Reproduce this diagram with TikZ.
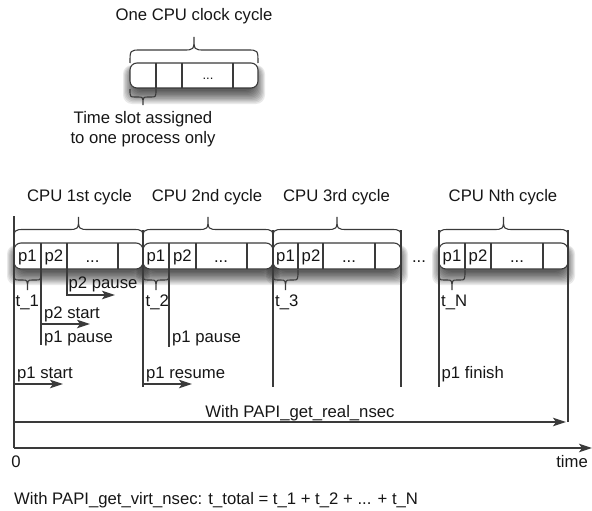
\documentclass[tikz,border=0pt]{standalone}
\usepackage{fontspec}
\setmainfont{Liberation Sans}
\usetikzlibrary{arrows.meta}
\definecolor{ln}{HTML}{3A3A3A}
\definecolor{tx}{HTML}{161616}
% curly brace: x1, x2, y0, h (signed), w, xm
\newcommand{\cbrace}[6]{%
  \draw[ln, line width=1.1pt] (#1,#3) .. controls (#1,{#3+#4/2}) .. ({#1+#5},{#3+#4/2})
    -- ({#6-#5},{#3+#4/2}) .. controls (#6,{#3+#4/2}) .. (#6,{#3+#4})
    .. controls (#6,{#3+#4/2}) .. ({#6+#5},{#3+#4/2})
    -- ({#2-#5},{#3+#4/2}) .. controls (#2,{#3+#4/2}) .. (#2,#3);}
% soft shadow under a box: x1, x2, ytop, ybot
\newcommand{\softshadow}[4]{%
  \foreach \k in {0,...,10}{%
    \fill[black, opacity=0.085, rounded corners=9pt]
      ({#1+4-\k*1.1},{#3+6-\k*0.4}) rectangle ({#2-4+\k*1.1},{#4+3+\k*1.3});}}
\begin{document}
\begin{tikzpicture}[x=1pt, y=-1pt,
  lbl/.style={text=tx, inner sep=0pt, font=\fontsize{16.7}{20}\selectfont},
  dots/.style={text=tx, inner sep=0pt, font=\fontsize{13}{15}\selectfont},
  slotbox/.style={draw=ln, fill=white, rounded corners=7pt, line width=1.1pt},
  ln1/.style={ln, line width=1.1pt},
  arr/.style={ln, line width=1.1pt, -{Stealth[length=13pt,width=8.5pt,inset=3pt]}}]
\useasboundingbox (0,0) rectangle (592,511);

% ---------- top legend ----------
\node[lbl, anchor=base] (title) at (194,21) {One CPU clock cycle};
\softshadow{130}{258}{63}{88}
\draw[slotbox] (130,63) rectangle (258,88);
\coordinate (tbox) at (194,75.5);
\foreach \x in {156,182,233} \draw[ln1] (\x,63) -- (\x,88);
\node[dots, anchor=base] (tdots) at (208,80) {...};
\cbrace{130}{258}{63}{-26}{11}{194}
\cbrace{130}{156}{89}{16}{5}{143}
\node[lbl, anchor=base] (slot1) at (143,123) {Time slot assigned};
\node[lbl, anchor=base] (slot2) at (143,143) {to one process only};

% ---------- cycle labels ----------
\node[lbl, anchor=base] (cy1) at (79.5,201) {CPU 1st cycle};
\node[lbl, anchor=base] (cy2) at (207,201) {CPU 2nd cycle};
\node[lbl, anchor=base] (cy3) at (336.5,201) {CPU 3rd cycle};
\node[lbl, anchor=base] (cyN) at (503,201) {CPU Nth cycle};

% ---------- shadows and boxes ----------
\softshadow{14}{143}{243}{269}
\softshadow{143}{273}{243}{269}
\softshadow{273}{401}{243}{269}
\softshadow{439}{568}{243}{269}
\draw[slotbox] (14,243) rectangle (143,269);
\draw[slotbox] (143,243) rectangle (273,269);
\draw[slotbox] (273,243) rectangle (401,269);
\draw[slotbox] (439,243) rectangle (568,269);
\foreach \x in {41,67,118, 169,196,247, 298,323,375, 465,491,543}
  \draw[ln1] (\x,243) -- (\x,269);

% slot texts
\foreach \xa/\xb/\xc/\n in {27.5/54/92.5/1, 156/182.5/221/2, 285.5/311/349/3, 452/478/517/4}{
  \node[lbl, anchor=base] (p1\n) at (\xa,261) {p1};
  \node[lbl, anchor=base] (p2\n) at (\xb,261) {p2};
  \node[lbl, anchor=base] (d\n) at (\xc,262) {...};
}
\node[lbl, anchor=base] (gap) at (419,262) {...};

% braces over cycles
\cbrace{14}{143}{242}{-25}{11}{78.5}
\cbrace{143}{273}{242}{-25}{11}{208}
\cbrace{273}{401}{242}{-25}{11}{337}
\cbrace{439}{568}{242}{-25}{11}{503.5}
% braces under first slots
\cbrace{14}{41}{270}{20}{5}{27.5}
\cbrace{143}{169}{270}{20}{5}{156}
\cbrace{273}{298}{270}{20}{5}{285.5}
\cbrace{439}{465}{270}{20}{5}{452}

% t labels
\node[lbl, anchor=base west] (t1) at (15.5,306) {t\_1};
\node[lbl, anchor=base west] (t2) at (145.5,306) {t\_2};
\node[lbl, anchor=base west] (t3) at (275,306) {t\_3};
\node[lbl, anchor=base west] (tN) at (441,306) {t\_N};

% ---------- coordinates ----------
\coordinate (L0) at (14,216);
\coordinate (O) at (14,448);
\coordinate (Tend) at (592,448);
\foreach \x/\n in {143/a,273/b,401/c,439/d}{
  \coordinate (v\n t) at (\x,230);
  \coordinate (v\n b) at (\x,387);
}
\coordinate (vet) at (568,230);
\coordinate (veb) at (568,422);
\coordinate (R0) at (14,422);
\coordinate (R1) at (566,422);
\coordinate (q1t) at (41,269);
\coordinate (q1b) at (41,345);
\coordinate (q2t) at (67,269);
\coordinate (q2e) at (115,295);
\coordinate (q3t) at (169,269);
\coordinate (q3b) at (169,347);
\coordinate (s1) at (41,324);
\coordinate (s1e) at (90,324);
\coordinate (s2) at (14,384);
\coordinate (s2e) at (63,384);
\coordinate (s3) at (143,384);
\coordinate (s3e) at (192,384);

% ---------- lines ----------
\draw[ln1] (L0) -- (O);
\foreach \n in {a,b,c,d} \draw[ln1] (v\n t) -- (v\n b);
\draw[ln1] (vet) -- (veb);
\draw[ln1] (q1t) -- (q1b);
\draw[arr] (q2t) |- (q2e);
\draw[ln1] (q3t) -- (q3b);
\draw[arr] (s1) -- (s1e);
\draw[arr] (s2) -- (s2e);
\draw[arr] (s3) -- (s3e);
\draw[arr] (R0) -- (R1);
\draw[arr] (O) -- (Tend);

% ---------- event labels ----------
\node[lbl, anchor=base west] (l1) at (68.5,288) {p2 pause};
\node[lbl, anchor=base west] (l2) at (44,318) {p2 start};
\node[lbl, anchor=base west] (l3) at (44,342) {p1 pause};
\node[lbl, anchor=base west] (l4) at (172,342) {p1 pause};
\node[lbl, anchor=base west] (l5) at (17,378) {p1 start};
\node[lbl, anchor=base west] (l6) at (146,378) {p1 resume};
\node[lbl, anchor=base west] (l7) at (441.5,378) {p1 finish};
\node[lbl, anchor=base] (real) at (300,417) {With PAPI\_get\_real\_nsec};
\node[lbl, anchor=base] (zero) at (16,467) {0};
\node[lbl, anchor=base east] (time) at (588,467) {time};
\node[lbl, anchor=base west] (virt) at (14,504) {With PAPI\_get\_virt\_nsec: t\_total = t\_1 + t\_2 + ... + t\_N};
\end{tikzpicture}
\end{document}
